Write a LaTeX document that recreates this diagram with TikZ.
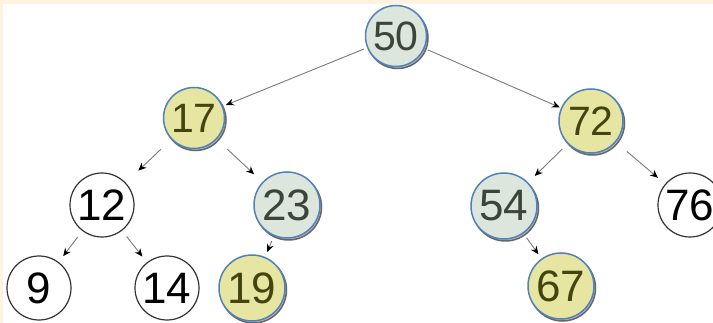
\documentclass[tikz,border=0pt]{standalone}
\usepackage{fontspec}
\setmainfont{Liberation Sans}
\usetikzlibrary{arrows.meta,shadows}
\definecolor{cream}{HTML}{FDF3DF}
\definecolor{nodeblue}{HTML}{4F81BD}
\definecolor{greenfill}{HTML}{DCE6DC}
\definecolor{yellowfill}{HTML}{E6E6A2}
\definecolor{greentext}{HTML}{3A463A}
\definecolor{yellowtext}{HTML}{44440E}
\definecolor{edgegray}{HTML}{7A7A7A}
\tikzset{
  base/.style={circle, inner sep=0pt, outer sep=0pt, font=\fontsize{44}{44}\selectfont},
  plain/.style={base, draw=black!80, line width=1.2pt, fill=white, minimum size=64pt, text=black},
  colored/.style={base, draw=nodeblue, line width=1.5pt, minimum size=66pt,
    copy shadow={shadow xshift=1.5pt, shadow yshift=-2pt, fill=black!25, draw=black!60, line width=1.5pt}},
  greennode/.style={colored, fill=greenfill, text=greentext},
  yellownode/.style={colored, fill=yellowfill, text=yellowtext},
  small/.style={minimum size=61pt, font=\fontsize{41}{41}\selectfont},
  edge/.style={draw=edgegray, line width=0.9pt, -{Stealth[length=8pt,width=7pt,color=black]}},
}
\begin{document}
\begin{tikzpicture}[x=1pt, y=-1pt]
  \fill[cream] (0,0) rectangle (713,323);
  \fill[white] (3,4) rectangle (713,323);
  \useasboundingbox (0,0) rectangle (713,323);
  % level 0
  \node[greennode, small] (n50) at (396,36) {50};
  % level 1
  \node[yellownode, small] (n17) at (194,118) {17};
  \node[yellownode, small, minimum size=64pt] (n72) at (591,121) {72};
  % level 2
  \node[plain] (n12) at (102,205) {12};
  \node[greennode] (n23) at (287,205) {23};
  \node[greennode] (n54) at (504,206) {54};
  \node[plain] (n76) at (690,205) {76};
  % level 3
  \node[plain] (n9) at (39,288) {9};
  \node[plain] (n14) at (167,288) {14};
  \node[yellownode] (n19) at (252,288) {19};
  \node[yellownode] (n67) at (561,286) {67};
  % edges
  \draw[edge, shorten <=4pt, shorten >=4pt] (n50) -- (n17);
  \draw[edge, shorten <=4pt, shorten >=2pt] (n50) -- (n72);
  \draw[edge, shorten <=15pt, shorten >=18pt] (n17) -- (n12);
  \draw[edge, shorten <=15pt, shorten >=12pt] (n17) -- (n23);
  \draw[edge, shorten <=8pt, shorten >=10pt] (n72) -- (n54);
  \draw[edge, shorten <=15pt, shorten >=10pt] (n72) -- (n76);
  \draw[edge, shorten <=8pt, shorten >=8pt] (n12) -- (n9);
  \draw[edge, shorten <=8pt, shorten >=8pt] (n12) -- (n14);
  \draw[edge, shorten <=6pt, shorten >=6pt] (n23) -- (n19);
  \draw[edge, shorten <=6pt, shorten >=6pt] (n54) -- (n67);
\end{tikzpicture}
\end{document}
